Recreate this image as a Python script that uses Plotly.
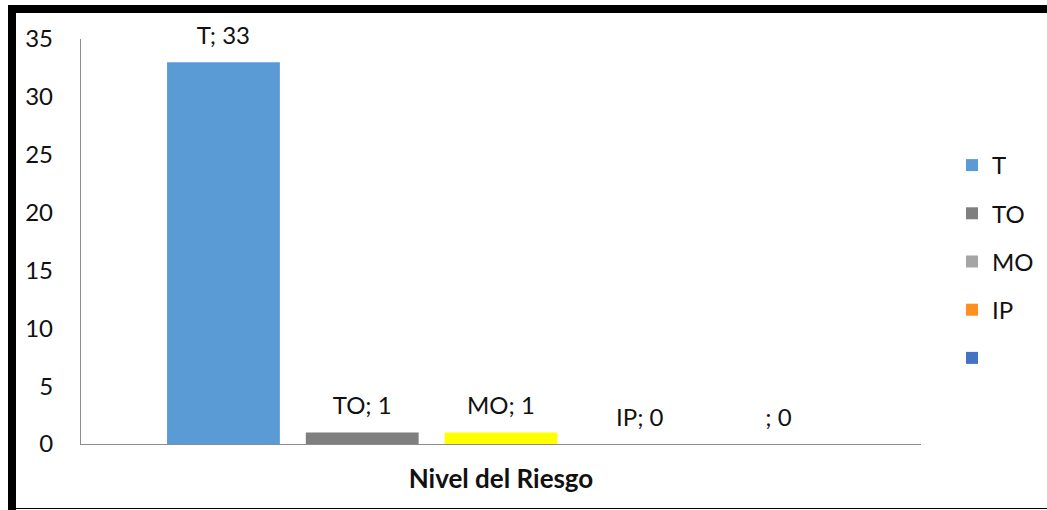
import plotly.graph_objects as go

# ---- data ----
category = ["Nivel del Riesgo"]
series_names = ["T", "TO", "MO", "IP", ""]
series_values = [33, 1, 1, 0, 0]
bar_colors = ["#5B9BD5", "#7F7F7F", "#FFFF00", "#FF8F1F", "#4472C4"]
legend_colors = ["#5B9BD5", "#7F7F7F", "#A5A5A5", "#FF8F1F", "#4472C4"]
y_ticks = [0, 5, 10, 15, 20, 25, 30, 35]

W, H = 1047, 510
ML, MR, MT, MB = 81, 126, 39, 66
PW, PH = W - ML - MR, H - MT - MB
FONT = "Lato"
FS = 24
BARGAP = 0.174


def px_x(px):
    return (px - ML) / PW


def px_y(py):
    return (H - MB - py) / PH


fig = go.Figure()

for i, (name, val) in enumerate(zip(series_names, series_values)):
    fig.add_trace(go.Bar(
        x=category, y=[val], name=name,
        marker=dict(color=bar_colors[i], line=dict(width=0)),
        offsetgroup=str(i), showlegend=False, hoverinfo="skip",
    ))

# labels, grouped like bars
for i, (name, val) in enumerate(zip(series_names, series_values)):
    fig.add_trace(go.Scatter(
        x=category, y=[val], mode="markers+text",
        text=[f"{name}; {val}"], textposition="top center",
        textfont=dict(family=FONT, size=FS, color="#111111"),
        marker=dict(size=18, opacity=0),
        offsetgroup=str(i), showlegend=False, hoverinfo="skip",
        cliponaxis=False,
    ))

# legend entries
for i, name in enumerate(series_names):
    fig.add_trace(go.Bar(
        x=category, y=[0], name=name if name else " ",
        marker=dict(color=legend_colors[i], line=dict(width=0)),
        xaxis="x2", yaxis="y2", legendgroup=f"g{i}", showlegend=True,
        hoverinfo="skip",
    ))

shapes = [
    # frame
    dict(type="rect", xref="paper", yref="paper",
         x0=px_x(8), x1=px_x(W + 20), y0=px_y(13), y1=px_y(5),
         fillcolor="black", line=dict(width=0), layer="above"),
    dict(type="rect", xref="paper", yref="paper",
         x0=px_x(8), x1=px_x(16), y0=px_y(H + 10), y1=px_y(5),
         fillcolor="black", line=dict(width=0), layer="above"),
    dict(type="line", xref="paper", yref="paper",
         x0=px_x(8), x1=px_x(W + 20), y0=px_y(508.5), y1=px_y(508.5),
         line=dict(color="black", width=1.2), layer="above"),
]

fig.update_layout(
    width=W, height=H,
    margin=dict(l=ML, r=MR, t=MT, b=MB, pad=0, autoexpand=False),
    paper_bgcolor="white", plot_bgcolor="white",
    barmode="group", bargap=BARGAP, bargroupgap=0.187,
    scattermode="group", scattergap=BARGAP,
    font=dict(family=FONT, size=FS, color="#111111"),
    xaxis=dict(
        type="category", showticklabels=False, ticks="",
        showline=True, linecolor="#8C8C8C", linewidth=1.3,
        showgrid=False, zeroline=False,
        title=dict(text="<b>Nivel del Riesgo</b>", standoff=25,
                   font=dict(family=FONT, size=26, color="#111111")),
    ),
    yaxis=dict(
        range=[0, 35], tickvals=y_ticks, ticks="",
        showline=True, linecolor="#8C8C8C", linewidth=1.3,
        showgrid=False, zeroline=False, ticklabelstandoff=22,
        tickfont=dict(family=FONT, size=FS, color="#111111"),
    ),
    xaxis2=dict(visible=False, overlaying="x", type="category"),
    yaxis2=dict(visible=False, overlaying="y", range=[0, 35]),
    legend=dict(
        x=px_x(952), y=px_y(143), xanchor="left", yanchor="top",
        font=dict(family=FONT, size=FS, color="#111111"),
        traceorder="grouped", tracegroupgap=14,
        bgcolor="rgba(0,0,0,0)",
    ),
    shapes=shapes,
    showlegend=True,
)

fig.write_html("out.html")
